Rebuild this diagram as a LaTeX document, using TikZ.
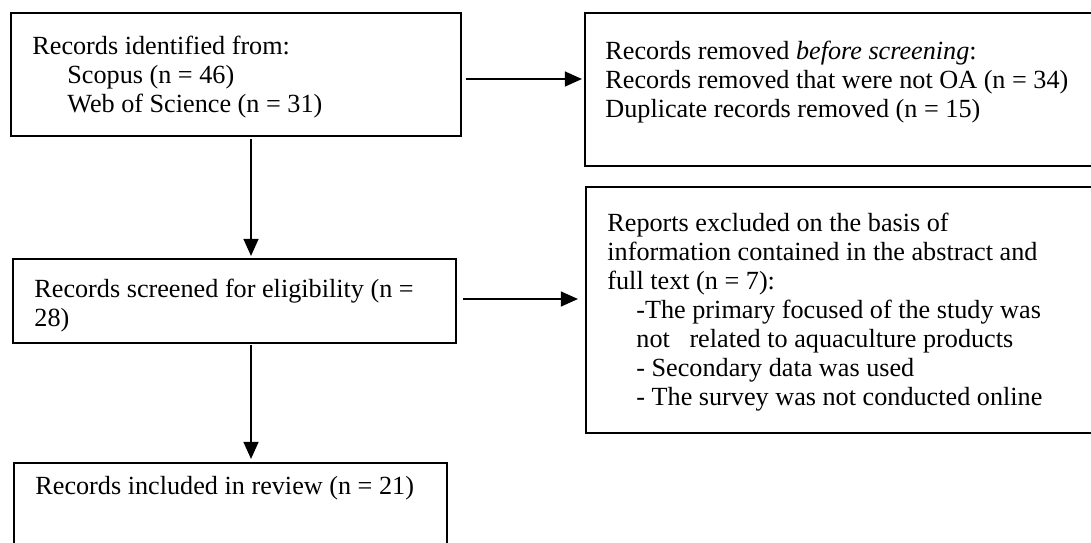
\documentclass[tikz,border=0pt]{standalone}
\usepackage{fontspec}
\setmainfont{Liberation Serif}
\usetikzlibrary{arrows.meta,fit}
\begin{document}
\begin{tikzpicture}[x=0.5pt,y=-0.5pt,
  box/.style={draw=black,line width=1.1pt,inner sep=0pt},
  txt/.style={anchor=north west,inner sep=0pt,align=left,
    font=\fontsize{13.1pt}{14.5pt}\selectfont},
  arr/.style={line width=0.65pt,-{Triangle[length=8.5pt,width=7.5pt]}}]
\useasboundingbox (0,0) rectangle (1091,542);
\clip (0,0) rectangle (1091,542);

% box corners (the right-hand and bottom boxes run past the page edge)
\coordinate (b1a) at (11,13);   \coordinate (b1b) at (461,136);
\coordinate (b2a) at (585,13);  \coordinate (b2b) at (1110,166);
\coordinate (b3a) at (586,187); \coordinate (b3b) at (1110,433);
\coordinate (b4a) at (13,259);  \coordinate (b4b) at (456,343);
\coordinate (b5a) at (14,463);  \coordinate (b5b) at (447,570);

\node[box,fit=(b1a)(b1b)] (b1) {};
\node[box,fit=(b2a)(b2b)] (b2) {};
\node[box,fit=(b3a)(b3b)] (b3) {};
\node[box,fit=(b4a)(b4b)] (b4) {};
\node[box,fit=(b5a)(b5b)] (b5) {};

% box texts
\node[txt] (t1) at (32,34) {\strut Records identified from:\\
  \hspace*{17.5pt}Scopus (n = 46)\\
  \hspace*{17.5pt}Web of Science (n = 31)};
\node[txt] (t2) at (605,39) {\strut Records removed \textit{before screening}:\\
  Records removed that were not OA (n = 34)\\
  Duplicate records removed (n = 15)};
\node[txt] (t3) at (607,211) {\strut Reports excluded on the basis of\\
  information contained in the abstract and\\
  full text (n = 7):\\
  \hspace*{14.5pt}-The primary focused of the study was\\
  \hspace*{14.5pt}not~~~related to aquaculture products\\
  \hspace*{14.5pt}- Secondary data was used\\
  \hspace*{14.5pt}- The survey was not conducted online};
\node[txt] (t4) at (34,277) {\strut Records screened for eligibility (n =\\28)};
\node[txt] (t5) at (35,474) {\strut Records included in review (n = 21)};

% connectors
\coordinate (r1) at (0,79);
\coordinate (r2) at (0,299);
\coordinate (col) at (251,0);
\draw[arr,shorten <=2pt,shorten >=1pt] (b1.east |- r1) -- (b2.west |- r1);
\draw[arr,shorten <=3pt,shorten >=3.5pt] (b4.east |- r2) -- (b3.west |- r2);
\draw[arr,shorten <=1pt,shorten >=1pt] (b1.south -| col) -- (b4.north -| col);
\draw[arr,shorten <=0.5pt,shorten >=1.5pt] (b4.south -| col) -- (b5.north -| col);
\end{tikzpicture}
\end{document}
